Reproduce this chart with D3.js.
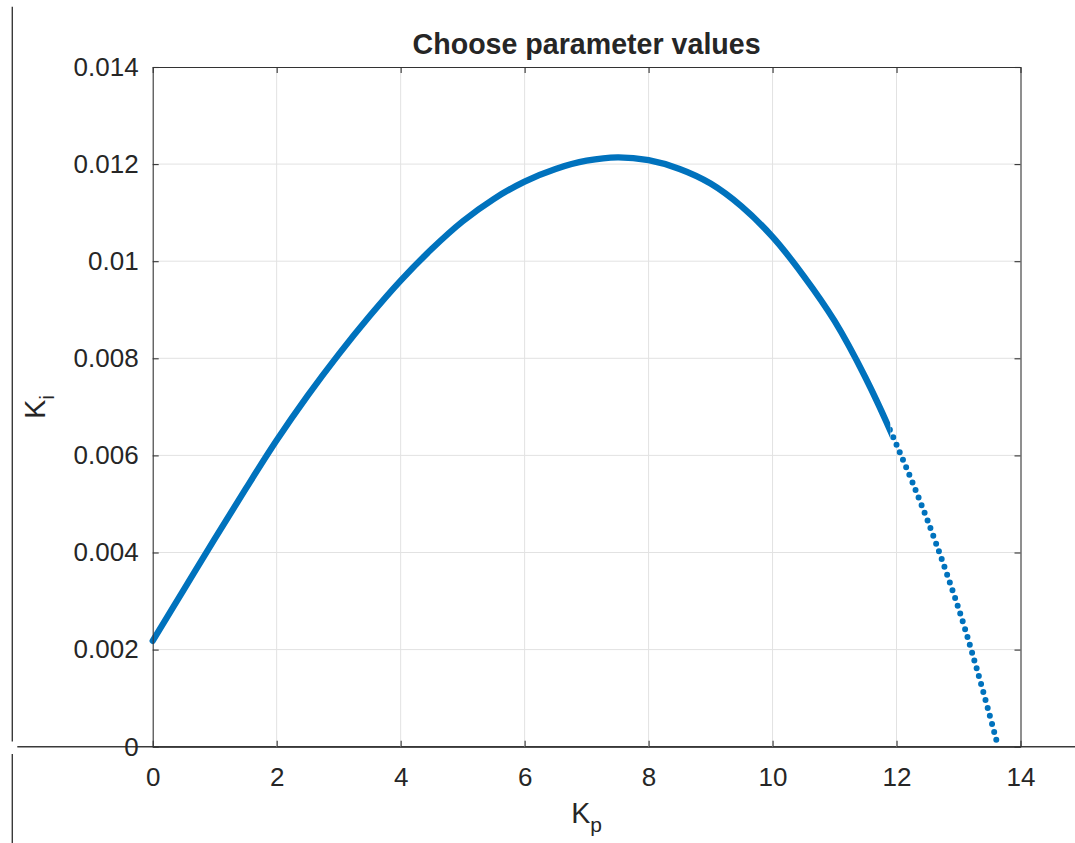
<!DOCTYPE html>
<html>
<head>
<meta charset="utf-8">
<script src="https://cdn.jsdelivr.net/npm/d3@7"></script>
<style>
  html, body { margin: 0; padding: 0; background: #ffffff; }
  svg { display: block; }
  text { font-family: "Liberation Sans", Arial, Helvetica, sans-serif; fill: #262626; }
</style>
</head>
<body>
<svg id="chart" width="1075" height="843"></svg>
<script>
// Stability boundary of the PI controller: integral gain Ki against proportional gain Kp
const kpValues = [0, 0.5, 1, 1.5, 2, 2.5, 3, 3.5, 4, 4.5, 5, 5.5, 6, 6.5, 7, 7.5, 8, 8.5, 9, 9.5, 10, 10.5, 11, 11.5, 12, 12.5, 13, 13.3, 13.64];
const kiValues = [0.00218, 0.00323, 0.00428, 0.00531, 0.00631, 0.00723, 0.00808, 0.00887, 0.00960, 0.01025, 0.01082, 0.01128, 0.01164, 0.01190, 0.01207, 0.01214, 0.01208, 0.01190, 0.01160, 0.01113, 0.01050, 0.00970, 0.00877, 0.00760, 0.00622, 0.00466, 0.00285, 0.00158, 0];

// Beyond this Kp the sampled points spread apart and show as separate dots
const sparseFromKp = 11.9;

const xTicks = [0, 2, 4, 6, 8, 10, 12, 14];
const xTickLabels = ["0", "2", "4", "6", "8", "10", "12", "14"];
const yTicks = [0, 0.002, 0.004, 0.006, 0.008, 0.010, 0.012, 0.014];
const yTickLabels = ["0", "0.002", "0.004", "0.006", "0.008", "0.01", "0.012", "0.014"];

const titleText = "Choose parameter values";

const points = kpValues.map((kp, i) => ({ kp, ki: kiValues[i] }));

const svg = d3.select("#chart");
const plotLeft = 152.7, plotRight = 1020.5, plotTop = 67, plotBottom = 746.7;

const x = d3.scaleLinear().domain([0, 14]).range([plotLeft, plotRight]);
const y = d3.scaleLinear().domain([0, 0.014]).range([plotBottom, plotTop]);

const axisColor = "#333333";
const blue = "#0072BD";

// Neighbouring figure frame lines
svg.append("line").attr("x1", 12.3).attr("x2", 12.3).attr("y1", 6.7).attr("y2", 741.5)
  .attr("stroke", "#3a3a3a").attr("stroke-width", 1.4);
svg.append("line").attr("x1", 12.3).attr("x2", 12.3).attr("y1", 754).attr("y2", 843)
  .attr("stroke", "#3a3a3a").attr("stroke-width", 1.4);
svg.append("line").attr("x1", 17.3).attr("x2", 1075).attr("y1", y(0)).attr("y2", y(0))
  .attr("stroke", "#3a3a3a").attr("stroke-width", 1.4);

// Grid
const grid = svg.append("g").attr("stroke", "#e2e2e2").attr("stroke-width", 1);
grid.selectAll("line.vx").data(xTicks.slice(1, -1)).join("line")
  .attr("x1", d => x(d)).attr("x2", d => x(d)).attr("y1", plotTop).attr("y2", plotBottom);
grid.selectAll("line.hy").data(yTicks.slice(1, -1)).join("line")
  .attr("x1", plotLeft).attr("x2", plotRight).attr("y1", d => y(d)).attr("y2", d => y(d));

// Clip regions: dense part drawn as a solid band, sparse tail as dots
const defs = svg.append("defs");
defs.append("clipPath").attr("id", "dense")
  .append("rect").attr("x", 0).attr("y", 0)
  .attr("width", x(sparseFromKp)).attr("height", 843);
defs.append("clipPath").attr("id", "sparse")
  .append("rect").attr("x", x(sparseFromKp)).attr("y", 0)
  .attr("width", 1075 - x(sparseFromKp)).attr("height", 843);

const line = d3.line().x(d => x(d.kp)).y(d => y(d.ki)).curve(d3.curveCatmullRom.alpha(0.5));

svg.append("path")
  .datum(points)
  .attr("d", line)
  .attr("clip-path", "url(#dense)")
  .attr("fill", "none")
  .attr("stroke", blue)
  .attr("stroke-width", 6.3)
  .attr("stroke-linecap", "round")
  .attr("stroke-linejoin", "round");

const tail = points.filter((d, i) => i >= kpValues.findIndex(k => k > sparseFromKp) - 1);
svg.append("path")
  .datum(tail)
  .attr("d", line)
  .attr("clip-path", "url(#sparse)")
  .attr("fill", "none")
  .attr("stroke", blue)
  .attr("stroke-width", 6)
  .attr("stroke-linecap", "round")
  .attr("stroke-dasharray", "0 8.2");

// Axes with inward ticks on all four sides
function styleAxis(g) {
  g.selectAll(".domain").attr("stroke", axisColor).attr("stroke-width", 1.1);
  g.selectAll(".tick line").attr("stroke", axisColor).attr("stroke-width", 1.1);
  g.selectAll(".tick text").attr("fill", "#262626").style("font-size", "26px")
    .style("font-family", '"Liberation Sans", Arial, Helvetica, sans-serif');
}

svg.append("g").attr("transform", `translate(0,${plotBottom})`)
  .call(d3.axisBottom(x).tickValues(xTicks).tickFormat((d, i) => xTickLabels[i])
    .tickSizeInner(-6).tickSizeOuter(0).tickPadding(20.5))
  .call(styleAxis);

svg.append("g").attr("transform", `translate(0,${plotTop})`)
  .call(d3.axisTop(x).tickValues(xTicks).tickFormat("")
    .tickSizeInner(-6).tickSizeOuter(0))
  .call(styleAxis);

svg.append("g").attr("transform", `translate(${plotLeft},0)`)
  .call(d3.axisLeft(y).tickValues(yTicks).tickFormat((d, i) => yTickLabels[i])
    .tickSizeInner(-6).tickSizeOuter(0).tickPadding(14))
  .call(styleAxis);

svg.append("g").attr("transform", `translate(${plotRight},0)`)
  .call(d3.axisRight(y).tickValues(yTicks).tickFormat("")
    .tickSizeInner(-6).tickSizeOuter(0))
  .call(styleAxis);

// Title
svg.append("text")
  .attr("x", (plotLeft + plotRight) / 2).attr("y", 53.5)
  .attr("text-anchor", "middle")
  .style("font-size", "28.6px").style("font-weight", "bold")
  .attr("fill", "#000000")
  .text(titleText);

// X label: K with subscript p
const xl = svg.append("text")
  .attr("x", (plotLeft + plotRight) / 2).attr("y", 823)
  .attr("text-anchor", "middle")
  .style("font-size", "28.6px");
xl.append("tspan").text("K");
xl.append("tspan").attr("dy", 9).style("font-size", "21px").text("p");

// Y label: K with subscript i, rotated
const yl = svg.append("text")
  .attr("transform", `translate(45,${(plotTop + plotBottom) / 2}) rotate(-90)`)
  .attr("text-anchor", "middle")
  .style("font-size", "28.6px");
yl.append("tspan").text("K");
yl.append("tspan").attr("dy", 9).style("font-size", "21px").text("i");
</script>
</body>
</html>
